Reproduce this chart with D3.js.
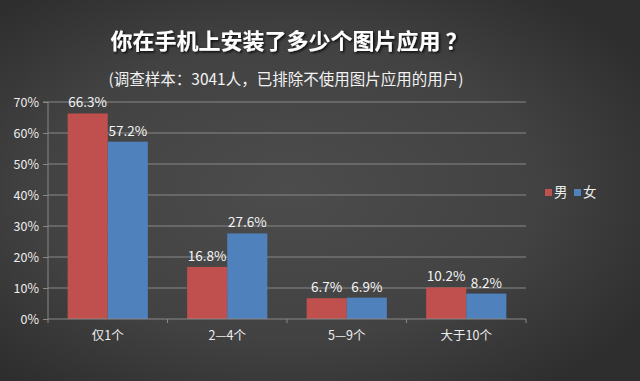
<!DOCTYPE html>
<html><head><meta charset="utf-8">
<script src="https://cdn.jsdelivr.net/npm/d3@7"></script>
<style>
html,body{margin:0;padding:0;background:#3a3a3a;}
svg{display:block;}
text{font-family:"Noto Sans CJK SC","Noto Sans",sans-serif;}
</style></head>
<body><svg id="c" width="640" height="381"></svg>
<script>
const categories = ["仅1个", "2—4个", "5—9个", "大于10个"];
const seriesNames = ["男", "女"];
const male = [66.3, 16.8, 6.7, 10.2];
const female = [57.2, 27.6, 6.9, 8.2];
const yTicks = [0, 10, 20, 30, 40, 50, 60, 70];
const colors = ["#c0504d", "#4f81bd"];
const title = "你在手机上安装了多少个图片应用 ？";
const subtitle = "(调查样本：3041人，已排除不使用图片应用的用户)";

(function(){
const svg = d3.select("#c");
const W = 640, H = 381;
const defs = svg.append("defs");
const rg = defs.append("radialGradient").attr("id","bg").attr("cx","45%").attr("cy","50%").attr("r","65%");
rg.append("stop").attr("offset","0%").attr("stop-color","#4c4c4c");
rg.append("stop").attr("offset","60%").attr("stop-color","#424242");
rg.append("stop").attr("offset","100%").attr("stop-color","#2e2e2e");
svg.append("rect").attr("width",W).attr("height",H).attr("fill","url(#bg)");
const f = defs.append("filter").attr("id","sh").attr("x","-5%").attr("y","-20%").attr("width","110%").attr("height","150%");
f.append("feDropShadow").attr("dx",1.5).attr("dy",1.5).attr("stdDeviation",1).attr("flood-color","#000").attr("flood-opacity",0.8);

svg.append("text").attr("x",289).attr("y",49).attr("text-anchor","middle")
  .attr("font-size",22).attr("font-weight","bold").attr("fill","#fff").attr("filter","url(#sh)").text(title);
svg.append("text").attr("x",286).attr("y",85).attr("text-anchor","middle")
  .attr("font-size",15.5).attr("fill","#f2f2f2").text(subtitle);

const pLeft = 48, pRight = 526, pTop = 102, pBottom = 319;
const y = d3.scaleLinear().domain([0,70]).range([pBottom, pTop]);
const x0 = d3.scaleBand().domain(categories).range([pLeft,pRight]).padding(0);
const x1 = d3.scaleBand().domain(seriesNames).range([0,x0.bandwidth()]).paddingInner(0).paddingOuter(0.49);

svg.append("g").selectAll("line").data(yTicks.filter(d=>d>0)).join("line")
  .attr("x1",pLeft).attr("x2",pRight).attr("y1",d=>y(d)).attr("y2",d=>y(d))
  .attr("stroke","#888888").attr("stroke-width",1);

const yAxis = d3.axisLeft(y).tickValues(yTicks).tickFormat(d=>d+"%").tickSize(5).tickPadding(4);
const gy = svg.append("g").attr("transform",`translate(${pLeft},0)`).call(yAxis);
gy.select(".domain").attr("stroke","#888888").attr("d",`M-5,${pTop}H0V${pBottom}`);
gy.selectAll(".tick line").attr("stroke","#888888");
gy.selectAll(".tick text").attr("fill","#eeeeee").attr("font-size",12.5).attr("font-family","'Noto Sans CJK SC','Noto Sans',sans-serif");

const data = categories.map((c,i)=>({c, vals:[male[i], female[i]]}));
const groups = svg.append("g").selectAll("g").data(data).join("g")
  .attr("transform",d=>`translate(${x0(d.c)},0)`);
groups.selectAll("rect").data(d=>d.vals.map((v,j)=>({s:seriesNames[j], v, j}))).join("rect")
  .attr("x",d=>x1(d.s)).attr("width",x1.bandwidth())
  .attr("y",d=>y(d.v)).attr("height",d=>y(0)-y(d.v)).attr("fill",d=>colors[d.j]);
groups.selectAll("text").data(d=>d.vals.map((v,j)=>({s:seriesNames[j], v, j}))).join("text")
  .attr("x",d=>x1(d.s)+x1.bandwidth()/2).attr("y",d=>y(d.v)-6)
  .attr("text-anchor","middle").attr("font-size",13.5).attr("fill","#f4f4f4")
  .text(d=>d.v.toFixed(1)+"%");

const xAxis = d3.axisBottom(x0).tickSize(0).tickPadding(12);
const gx = svg.append("g").attr("transform",`translate(0,${pBottom})`).call(xAxis);
gx.select(".domain").attr("stroke","#888888").attr("d",`M${pLeft},0H${pRight}`);
gx.selectAll(".tick text").attr("fill","#eeeeee").attr("font-size",12.5).attr("font-family","'Noto Sans CJK SC','Noto Sans',sans-serif");
const bounds = categories.map(c=>x0(c)).concat([pRight]);
svg.append("g").selectAll("line").data(bounds).join("line")
  .attr("x1",d=>d).attr("x2",d=>d).attr("y1",pBottom).attr("y2",pBottom+4)
  .attr("stroke","#888888");

const lg = svg.append("g").attr("transform","translate(545,189)");
seriesNames.forEach((s,i)=>{
  const g = lg.append("g").attr("transform",`translate(${i*29},0)`);
  g.append("rect").attr("width",7).attr("height",7).attr("fill",colors[i]);
  g.append("text").attr("x",9).attr("y",8).attr("font-size",13.5).attr("fill","#eeeeee").text(s);
});
})();
</script></body></html>
